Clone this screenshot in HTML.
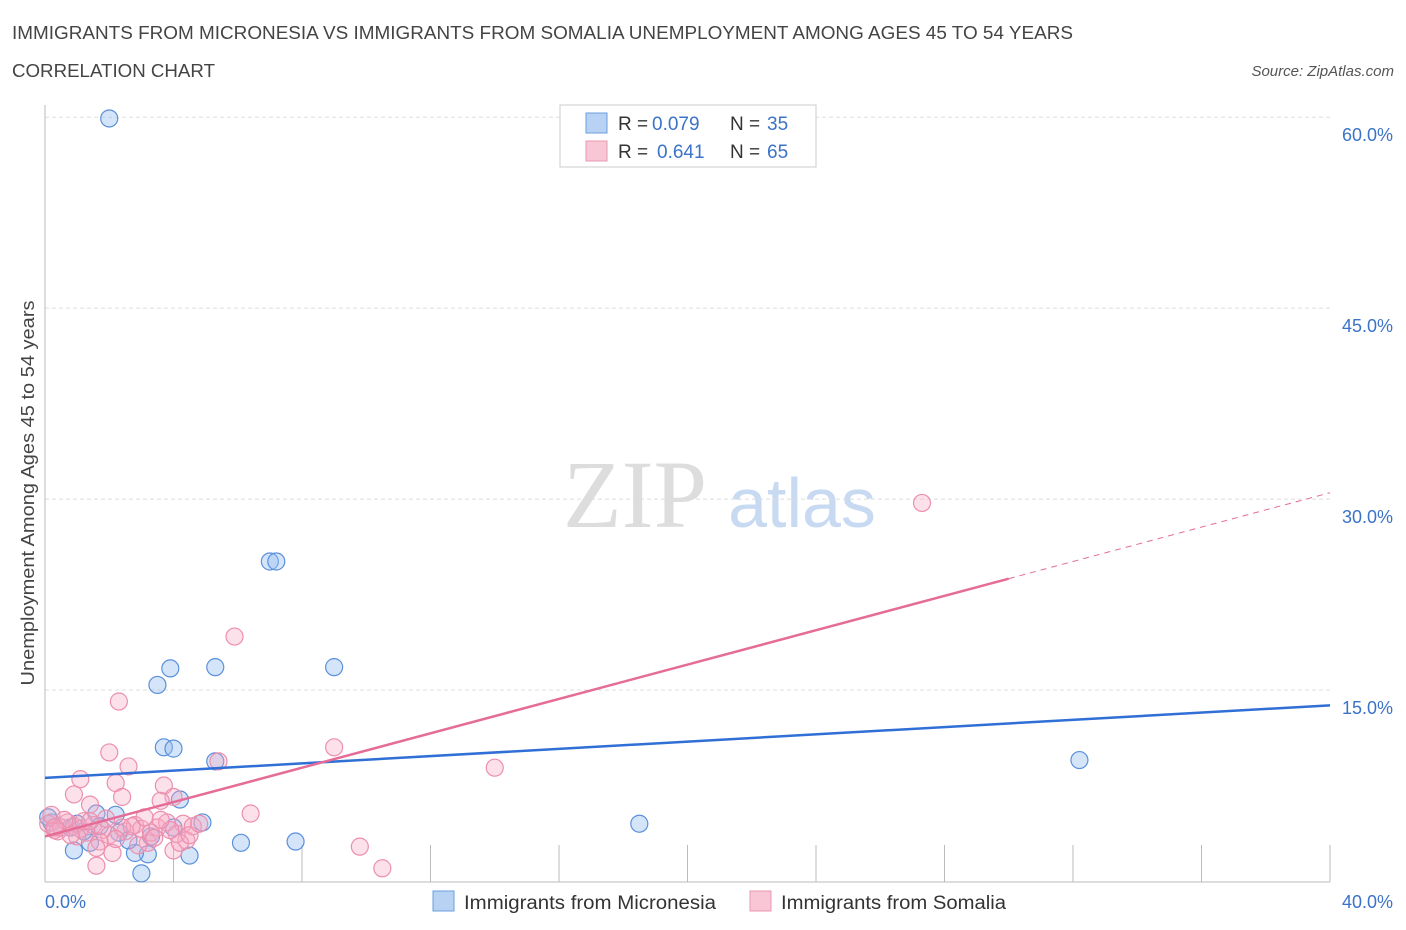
<!DOCTYPE html>
<html><head><meta charset="utf-8"><style>
body{margin:0;background:#fff;font-family:"Liberation Sans",sans-serif;}
svg{display:block}
</style></head><body>
<svg width="1406" height="930">
<text x="12" y="39" font-size="18" fill="#444" textLength="1061" lengthAdjust="spacingAndGlyphs">IMMIGRANTS FROM MICRONESIA VS IMMIGRANTS FROM SOMALIA UNEMPLOYMENT AMONG AGES 45 TO 54 YEARS</text>
<text x="12" y="77" font-size="18" fill="#444" textLength="203" lengthAdjust="spacingAndGlyphs">CORRELATION CHART</text>
<text x="1394" y="76" font-size="15" fill="#555" font-style="italic" text-anchor="end">Source: ZipAtlas.com</text>
<text x="635" y="527" font-size="96" fill="#ddd" font-family="Liberation Serif,serif" text-anchor="middle">ZIP</text>
<text x="802" y="527" font-size="70" fill="#c8daf2" text-anchor="middle">atlas</text>
<g id="grid"></g>
<g id="axes"></g>
<g id="pts"></g>
<g id="lines"></g>
<text transform="translate(34,493) rotate(-90)" font-size="18.5" fill="#444" text-anchor="middle" textLength="385" lengthAdjust="spacingAndGlyphs">Unemployment Among Ages 45 to 54 years</text>
<text x="45" y="908" font-size="18" fill="#3b73c8">0.0%</text>
<text x="1393" y="908" font-size="18" fill="#3b73c8" text-anchor="end">40.0%</text>
<g>
<rect x="560" y="105" width="256" height="62" fill="#fff" stroke="#ccc"/>
<rect x="586" y="113" width="21" height="20" fill="#b8d2f4" stroke="#6a9ee0"/>
<rect x="586" y="141" width="21" height="20" fill="#f8c6d4" stroke="#e898b2"/>
<text y="130" font-size="19" fill="#333"><tspan x="618">R =</tspan><tspan x="652" fill="#3b73c8">0.079</tspan><tspan x="730">N =</tspan><tspan x="767" fill="#3b73c8">35</tspan></text>
<text y="158" font-size="19" fill="#333"><tspan x="618">R =</tspan><tspan x="657" fill="#3b73c8">0.641</tspan><tspan x="730">N =</tspan><tspan x="767" fill="#3b73c8">65</tspan></text>
</g>
<g>
<rect x="433" y="891" width="21" height="20" fill="#b8d2f4" stroke="#6a9ee0"/>
<text x="464" y="909" font-size="19" fill="#333" textLength="252" lengthAdjust="spacingAndGlyphs">Immigrants from Micronesia</text>
<rect x="750" y="891" width="21" height="20" fill="#f8c6d4" stroke="#e898b2"/>
<text x="781" y="909" font-size="19" fill="#333" textLength="225" lengthAdjust="spacingAndGlyphs">Immigrants from Somalia</text>
</g>
</svg>
<script>
const yTicks=[15,30,45,60];
const yTickLabels=["15.0%","30.0%","45.0%","60.0%"];
const xTicks=[0,4,8,12,16,20,24,28,32,36,40];
const blueX=[2.0,7.0,7.2,3.5,3.9,5.3,9.0,3.7,4.0,5.3,4.2,32.2,18.5,7.8,6.1,4.5,3.2,2.8,3.0,0.9,1.4,4.9,2.2,1.6,0.2,0.5,0.8,1.2,1.7,2.3,2.6,4.0,0.1,1.0,3.3];
const blueY=[59.9,25.1,25.1,15.4,16.7,16.8,16.8,10.5,10.4,9.4,6.4,9.5,4.5,3.1,3.0,2.0,2.1,2.2,0.6,2.4,3.0,4.6,5.2,5.3,4.6,4.2,4.2,3.9,4.3,3.8,3.2,4.2,5.0,4.5,3.5];
const pinkX=[27.3,5.9,2.3,2.0,9.0,5.4,14.0,2.6,1.1,2.2,3.7,0.9,2.4,4.0,3.6,6.4,1.4,9.8,10.5,1.6,2.1,3.2,4.4,4.0,0.1,0.3,0.5,0.7,0.9,1.1,1.3,1.5,1.8,2.0,2.5,2.8,3.0,3.3,3.5,3.8,4.1,4.3,4.6,1.0,1.7,2.9,3.4,4.2,0.2,0.6,1.2,1.9,2.4,3.1,3.9,4.5,0.4,0.8,1.6,2.7,3.6,0.3,1.4,2.2,4.8];
const pinkY=[29.7,19.2,14.1,10.1,10.5,9.4,8.9,9.0,8.0,7.7,7.5,6.8,6.6,6.6,6.3,5.3,6.0,2.7,1.0,1.2,2.2,3.0,3.2,2.4,4.5,4.0,4.2,4.6,4.3,4.1,3.8,4.4,4.0,3.6,3.9,4.4,4.1,3.8,4.2,4.6,3.7,4.5,4.3,3.5,3.1,2.8,3.4,3.0,5.2,4.8,4.7,4.9,4.2,5.0,4.0,3.6,3.9,3.6,2.6,4.3,4.8,4.2,4.7,3.3,4.5];
const blueTrend=[8.1,13.8];
const pinkTrend=[3.5,30.5];
const NS="http://www.w3.org/2000/svg";
const X=v=>45+v/40*1285, Y=v=>881-v*12.73;
function mk(t,a,p){const e=document.createElementNS(NS,t);for(const k in a)e.setAttribute(k,a[k]);document.getElementById(p).appendChild(e);return e;}
yTicks.forEach((t,i)=>{
 const g=mk('line',{x1:45,x2:1330,y1:Y(t),y2:Y(t),stroke:'#ddd','stroke-dasharray':'4,3'},'grid');
 
 
 const l=mk('text',{x:1393,y:Y(t)+24,'font-size':18,fill:'#3b73c8','text-anchor':'end'},'grid');
 l.textContent=yTickLabels[i];
 
 
});
const ax=mk('line',{x1:45,x2:45,y1:105,y2:882,stroke:'#bbb'},'axes');


const bx=mk('line',{x1:45,x2:1330,y1:882,y2:882,stroke:'#bbb'},'axes');


xTicks.forEach(t=>{
 const k=mk('line',{x1:X(t),x2:X(t),y1:845,y2:882,stroke:'#bbb'},'axes');
 
 
});
blueX.forEach((v,i)=>{
 const c=mk('circle',{cx:X(v),cy:Y(blueY[i]),r:8.5,fill:'rgba(150,190,240,0.4)',stroke:'#5a90dc','stroke-width':1.2},'pts');
 
 
});
pinkX.forEach((v,i)=>{
 const c=mk('circle',{cx:X(v),cy:Y(pinkY[i]),r:8.5,fill:'rgba(245,170,195,0.35)',stroke:'#ec8fae','stroke-width':1.2},'pts');
 
 
});
const bl=mk('line',{x1:X(0),y1:Y(blueTrend[0]),x2:X(40),y2:Y(blueTrend[1]),stroke:'#2f6fd6','stroke-width':2.5},'lines');


const pm=pinkTrend[0]+(pinkTrend[1]-pinkTrend[0])*30/40;
const pl=mk('line',{x1:X(0),y1:Y(pinkTrend[0]),x2:X(30),y2:Y(pm),stroke:'#e66c98','stroke-width':2.5},'lines');


const pd=mk('line',{x1:X(30),y1:Y(pm),x2:X(40),y2:Y(pinkTrend[1]),stroke:'#e66c98','stroke-width':1,'stroke-dasharray':'6,5'},'lines');


</script>
</body></html>
